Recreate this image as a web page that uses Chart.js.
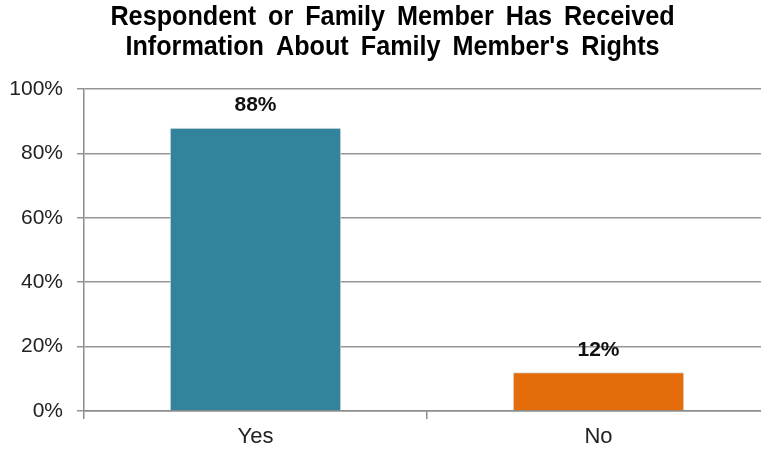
<!DOCTYPE html>
<html>
<head>
<meta charset="utf-8">
<script src="https://cdn.jsdelivr.net/npm/chart.js@4/dist/chart.umd.min.js"></script>
<style>
  html, body { margin: 0; padding: 0; background: #ffffff; overflow: hidden; }
  #wrap { width: 772px; height: 450px; }
</style>
</head>
<body>
<div id="wrap"><canvas id="chart" width="772" height="450"></canvas></div>
<script>
// Survey result: share of respondents whose family member received rights information
const categories = ['Yes', 'No'];
const percentValues = [88, 12];
const barColors = ['#31849B', '#E46C0A'];
const yTickValues = [0, 20, 40, 60, 80, 100];
const titleLines = ['Respondent or Family Member Has Received', "Information About Family Member's Rights"];

const FONT = '"Liberation Sans", Arial, Helvetica, sans-serif';

// Condensed bold two-line heading, drawn word by word
const condensedTitle = {
  id: 'condensedTitle',
  afterDraw(chart) {
    const ctx = chart.ctx;
    const squeeze = 0.9;
    const wordGap = 12;
    const centerX = 392.5;
    const baselines = [25, 55];
    ctx.save();
    ctx.font = 'bold 28px ' + FONT;
    ctx.fillStyle = '#000000';
    ctx.textBaseline = 'alphabetic';
    ctx.textAlign = 'left';
    titleLines.forEach((line, li) => {
      const words = line.split(' ');
      const widths = words.map(w => ctx.measureText(w).width * squeeze);
      const total = widths.reduce((a, b) => a + b, 0) + wordGap * (words.length - 1);
      let x = centerX - total / 2;
      words.forEach((w, wi) => {
        ctx.save();
        ctx.translate(x, baselines[li]);
        ctx.scale(squeeze, 1);
        ctx.fillText(w, 0, 0);
        ctx.restore();
        x += widths[wi] + wordGap;
      });
    });
    ctx.restore();
  }
};

// Draws the percentage above each bar
const valueLabels = {
  id: 'valueLabels',
  afterDatasetsDraw(chart) {
    const ctx = chart.ctx;
    const meta = chart.getDatasetMeta(0);
    ctx.save();
    ctx.font = 'bold 21px ' + FONT;
    ctx.fillStyle = '#111111';
    ctx.textAlign = 'center';
    ctx.textBaseline = 'middle';
    meta.data.forEach((bar, i) => {
      ctx.fillText(percentValues[i] + '%', bar.x, bar.y - 22);
    });
    ctx.restore();
  }
};

// Soft shadow around the bars
const barShadow = {
  id: 'barShadow',
  beforeDatasetsDraw(chart) {
    const ctx = chart.ctx;
    ctx.save();
    ctx.shadowColor = 'rgba(0,0,0,0.22)';
    ctx.shadowBlur = 3;
    ctx.shadowOffsetX = 0;
    ctx.shadowOffsetY = 0;
  },
  afterDatasetsDraw(chart) {
    chart.ctx.restore();
  }
};

new Chart(document.getElementById('chart'), {
  type: 'bar',
  data: {
    labels: categories,
    datasets: [{
      data: percentValues,
      backgroundColor: barColors,
      borderColor: '#f2f2f2',
      borderWidth: 1,
      barPercentage: 0.5,
      categoryPercentage: 1.0
    }]
  },
  options: {
    responsive: false,
    animation: false,
    layout: { padding: { left: 9, right: 2, top: 89, bottom: 0 } },
    plugins: {
      legend: { display: false },
      tooltip: { enabled: false },
      title: { display: false }
    },
    scales: {
      y: {
        min: 0,
        max: 100,
        afterBuildTicks(axis) {
          axis.ticks = yTickValues.map(v => ({ value: v }));
        },
        afterFit(axis) { axis.width = 75; },
        ticks: {
          callback: v => v + '%',
          color: '#222222',
          font: { family: FONT, size: 21 },
          padding: 14
        },
        grid: {
          color: '#959595',
          lineWidth: 1.5,
          tickLength: 7,
          drawTicks: true
        },
        border: { display: true, color: '#8c8c8c', width: 1.5 }
      },
      x: {
        offset: true,
        afterFit(axis) { axis.height = 39; },
        ticks: {
          color: '#222222',
          font: { family: FONT, size: 22 },
          padding: 5
        },
        grid: {
          offset: true,
          drawOnChartArea: false,
          drawTicks: true,
          tickLength: 8,
          color: '#8c8c8c',
          lineWidth: 1.5
        },
        border: { display: true, color: '#8c8c8c', width: 1.5 }
      }
    }
  },
  plugins: [barShadow, valueLabels, condensedTitle]
});
</script>
</body>
</html>
